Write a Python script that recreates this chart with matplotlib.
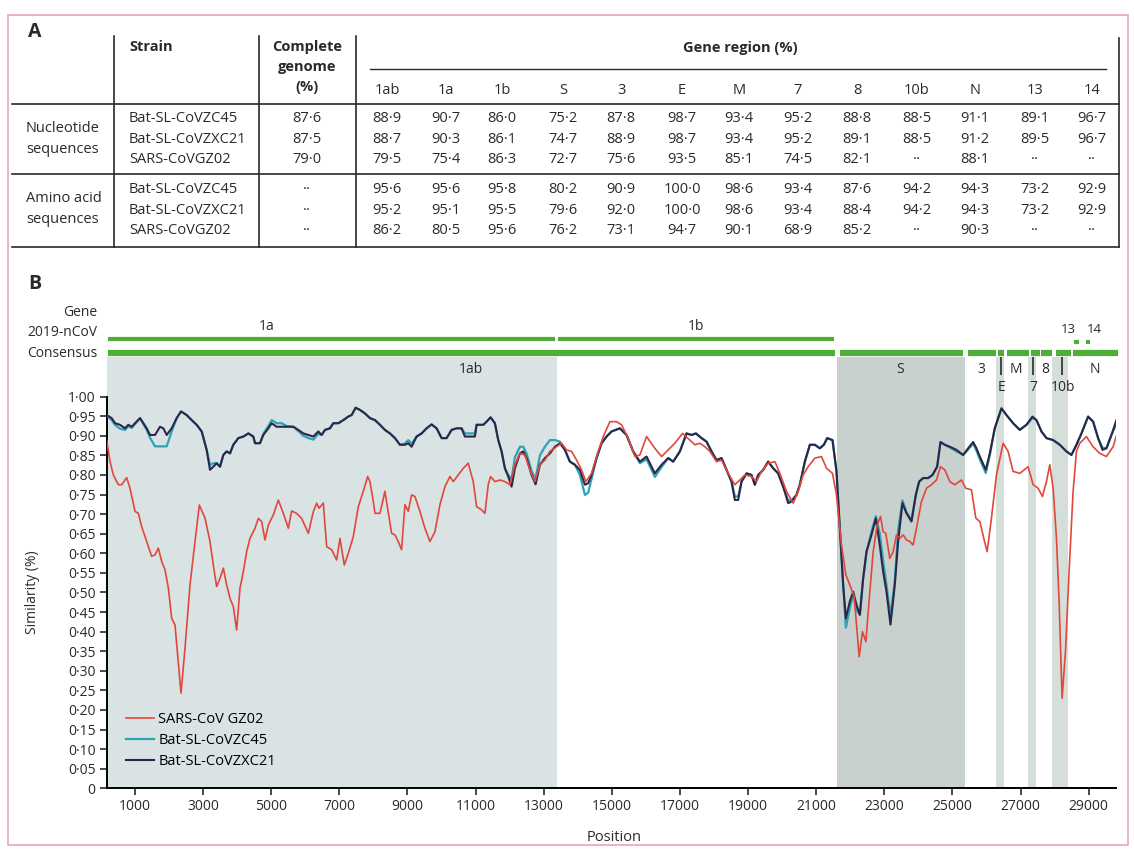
import matplotlib.pyplot as plt
from matplotlib.patches import Rectangle

plt.rcParams['font.family'] = ['Open Sans', 'DejaVu Sans']

# ---------------- panel A: identity table ----------------
strains = ['Bat-SL-CoVZC45', 'Bat-SL-CoVZXC21', 'SARS-CoVGZ02']
gene_cols = ['1ab', '1a', '1b', 'S', '3', 'E', 'M', '7', '8', '10b', 'N', '13', '14']
genome_nt = [87.6, 87.5, 79.0]
genome_aa = [None, None, None]
nt_zc45 = [88.9, 90.7, 86.0, 75.2, 87.8, 98.7, 93.4, 95.2, 88.8, 88.5, 91.1, 89.1, 96.7]
nt_zxc21 = [88.7, 90.3, 86.1, 74.7, 88.9, 98.7, 93.4, 95.2, 89.1, 88.5, 91.2, 89.5, 96.7]
nt_gz02 = [79.5, 75.4, 86.3, 72.7, 75.6, 93.5, 85.1, 74.5, 82.1, None, 88.1, None, None]
aa_zc45 = [95.6, 95.6, 95.8, 80.2, 90.9, 100.0, 98.6, 93.4, 87.6, 94.2, 94.3, 73.2, 92.9]
aa_zxc21 = [95.2, 95.1, 95.5, 79.6, 92.0, 100.0, 98.6, 93.4, 88.4, 94.2, 94.3, 73.2, 92.9]
aa_gz02 = [86.2, 80.5, 95.6, 76.2, 73.1, 94.7, 90.1, 68.9, 85.2, None, 90.3, None, None]

# ---------------- panel B: similarity plot ----------------
dark_pos = [169, 316, 414, 561, 708, 805, 903, 1001, 1148, 1246, 1344, 1441, 1588, 1735, 1833, 1931,
            2077, 2224, 2351, 2517, 2664, 2811, 2958, 3105, 3202, 3300, 3398, 3496, 3594, 3692, 3790,
            3887, 4034, 4181, 4328, 4474, 4524, 4670, 4768, 4915, 5013, 5160, 5306, 5453, 5649, 5795,
            5942, 6089, 6236, 6383, 6480, 6578, 6725, 6823, 6970, 7116, 7263, 7361, 7478, 7606, 7752,
            7899, 8045, 8192, 8338, 8485, 8632, 8779, 8925, 9023, 9121, 9268, 9415, 9561, 9708, 9855,
            10002, 10148, 10295, 10442, 10589, 10686, 10980, 11029, 11225, 11323, 11440, 11567, 11665,
            11763, 11860, 11958, 12056, 12154, 12301, 12398, 12496, 12643, 12761, 12888, 13035, 13181,
            13328, 13475, 13622, 13768, 13915, 14062, 14209, 14306, 14404, 14551, 14698, 14845, 14991,
            15236, 15431, 15627, 15823, 16019, 16263, 16459, 16655, 16801, 16997, 17193, 17340, 17467,
            17633, 17780, 17927, 18073, 18220, 18367, 18514, 18611, 18709, 18807, 18954, 19100, 19198,
            19296, 19443, 19590, 19737, 19883, 20030, 20177, 20275, 20422, 20519, 20666, 20813, 20960,
            21106, 21224, 21322, 21478, 21595, 21693, 21791, 21870, 21987, 22085, 22183, 22281, 22378,
            22476, 22623, 22750, 22867, 22965, 23063, 23180, 23307, 23405, 23532, 23650, 23797, 23924,
            24021, 24139, 24286, 24413, 24550, 24648, 24775, 24922, 25117, 25313, 25460, 25607, 25704,
            25802, 25978, 26096, 26242, 26438, 26585, 26780, 26976, 27172, 27348, 27466, 27612, 27759,
            27955, 28151, 28346, 28493, 28640, 28787, 28982, 29129, 29276, 29403, 29520, 29667, 29814]
zxc21_sim = [.953, .945, .932, .928, .919, .928, .923, .932, .945, .932, .919, .902, .902, .923, .919, .902,
             .919, .945, .962, .953, .940, .928, .911, .864, .813, .821, .830, .821, .851, .860, .855,
             .877, .894, .898, .906, .898, .881, .881, .902, .919, .932, .923, .923, .923, .923, .915,
             .906, .902, .898, .911, .902, .915, .919, .932, .932, .940, .949, .953, .972, .966, .957,
             .945, .940, .928, .915, .906, .894, .877, .877, .881, .872, .898, .906, .919, .929, .919,
             .894, .894, .915, .919, .919, .898, .898, .928, .928, .936, .947, .932, .889,
             .860, .817, .796, .770, .817, .855, .860, .843, .800, .776, .826, .843, .855,
             .872, .881, .864, .834, .826, .813, .775, .779, .800, .843, .881, .898, .911,
             .919, .902, .860, .834, .847, .804, .826, .843, .834, .860, .906, .902, .906,
             .894, .885, .860, .838, .843, .813, .783, .736, .736, .783, .804, .800, .775,
             .800, .813, .834, .817, .804, .770, .728, .732, .749, .775, .834, .877, .877,
             .868, .877, .894, .889, .809, .664, .519, .434, .477, .502, .468, .443, .536,
             .604, .647, .689, .620, .553, .502, .418, .519, .630, .728, .702, .681, .749,
             .783, .792, .792, .800, .821, .884, .877, .872, .864, .851, .868, .884, .868,
             .847, .813, .855, .919, .970, .953, .932, .915, .928, .949, .940, .911, .894,
             .889, .877, .860, .851, .877, .906, .949, .936, .894, .864, .868, .902, .940]
zc45_sim = [.953, .940, .928, .918, .915, .925, .920, .930, .945, .930, .915, .895, .873, .873, .873, .873,
            .911, .945, .962, .953, .940, .928, .911, .864, .825, .830, .830, .821, .851, .860, .855,
            .877, .894, .898, .906, .898, .881, .881, .905, .925, .940, .932, .932, .925, .923, .912,
            .900, .894, .890, .905, .902, .915, .919, .932, .932, .940, .949, .953, .970, .966, .957,
            .945, .940, .928, .915, .906, .894, .877, .880, .889, .880, .898, .906, .919, .929, .919,
            .894, .894, .915, .919, .919, .906, .906, .928, .928, .936, .947, .932, .889,
            .860, .817, .800, .790, .845, .872, .872, .855, .810, .790, .850, .872, .889,
            .889, .885, .864, .834, .826, .800, .749, .755, .790, .843, .881, .898, .911,
            .919, .902, .860, .830, .840, .795, .820, .843, .834, .860, .906, .902, .906,
            .894, .885, .860, .838, .843, .813, .783, .745, .745, .783, .804, .800, .775,
            .800, .813, .834, .817, .804, .770, .735, .735, .749, .775, .834, .877, .877,
            .868, .877, .894, .889, .809, .664, .519, .410, .460, .495, .455, .443, .536,
            .604, .655, .695, .650, .580, .520, .440, .530, .660, .735, .705, .685, .749,
            .783, .792, .792, .800, .821, .884, .877, .870, .860, .851, .865, .880, .862,
            .840, .805, .850, .919, .970, .953, .932, .915, .928, .945, .940, .911, .894,
            .889, .877, .860, .851, .877, .906, .949, .936, .894, .870, .868, .902, .930]

sars_pos = [169, 267, 365, 512, 610, 756, 854, 1001, 1099, 1197, 1344, 1490, 1588, 1686, 1784, 1882,
            1980, 2077, 2175, 2351, 2468, 2615, 2762, 2889, 3056, 3202, 3300, 3398, 3496, 3594, 3692,
            3790, 3887, 3985, 4083, 4181, 4278, 4376, 4524, 4621, 4719, 4817, 4915, 5062, 5208, 5355,
            5502, 5600, 5746, 5893, 6089, 6236, 6333, 6402, 6529, 6627, 6774, 6921, 7018, 7145, 7263,
            7410, 7556, 7703, 7830, 7898, 7997, 8045, 8192, 8338, 8534, 8632, 8730, 8827, 8925, 9023,
            9121, 9219, 9366, 9512, 9659, 9806, 9953, 10100, 10246, 10344, 10491, 10638, 10784, 10931,
            11029, 11176, 11274, 11371, 11440, 11567, 11714, 11860, 12007, 12154, 12301, 12447, 12594,
            12741, 12888, 13035, 13181, 13377, 13524, 13670, 13817, 13964, 14111, 14238, 14404, 14600,
            14747, 14943, 15138, 15285, 15480, 15676, 15823, 16019, 16263, 16459, 16655, 16850, 17075,
            17291, 17437, 17584, 17731, 17878, 18073, 18220, 18416, 18611, 18758, 18905, 19100, 19247,
            19394, 19590, 19786, 19932, 20128, 20324, 20470, 20617, 20764, 20960, 21155, 21302, 21478,
            21595, 21742, 21870, 21987, 22114, 22183, 22261, 22359, 22457, 22574, 22672, 22789, 22887,
            22965, 23043, 23160, 23258, 23356, 23454, 23552, 23650, 23748, 23845, 23943, 24090, 24237,
            24383, 24530, 24648, 24775, 24922, 25068, 25264, 25391, 25558, 25685, 25802, 25920, 26017,
            26145, 26291, 26487, 26634, 26780, 26976, 27221, 27368, 27515, 27642, 27759, 27857, 27955,
            28053, 28131, 28219, 28317, 28424, 28541, 28640, 28738, 28933, 29129, 29325, 29520, 29716,
            29834]
sars_sim = [.889, .834, .800, .775, .775, .793, .766, .707, .702, .668, .630, .592, .596, .613, .579, .558,
            .511, .434, .417, .243, .357, .519, .630, .723, .690, .630, .570, .515, .536, .562, .519,
            .485, .464, .404, .511, .553, .604, .638, .664, .689, .681, .634, .672, .698, .736, .702,
            .664, .708, .702, .689, .651, .706, .728, .715, .728, .617, .609, .583, .638, .570, .600,
            .643, .719, .758, .796, .783, .732, .702, .702, .758, .651, .647, .630, .609, .724, .707,
            .749, .745, .707, .664, .630, .655, .724, .770, .796, .783, .800, .817, .830, .783,
            .719, .711, .702, .775, .796, .783, .787, .783, .775, .826, .855, .851, .813,
            .783, .826, .838, .860, .872, .881, .864, .860, .838, .813, .783, .804, .860,
            .898, .936, .936, .928, .894, .847, .851, .898, .868, .847, .864, .881, .906,
            .889, .877, .881, .872, .860, .834, .838, .804, .775, .787, .800, .796, .783,
            .809, .830, .834, .804, .758, .728, .758, .800, .821, .843, .847, .817, .804,
            .749, .621, .545, .519, .489, .417, .336, .400, .374, .502, .604, .672, .694,
            .655, .651, .587, .604, .647, .638, .647, .634, .630, .621, .664, .732, .766,
            .775, .787, .821, .813, .783, .775, .787, .766, .762, .690, .681, .638, .604,
            .690, .800, .881, .860, .809, .804, .821, .775, .766, .745, .783, .826, .766,
            .638, .477, .230, .349, .553, .758, .860, .881, .898, .872, .855, .847, .872,
            .906]

# gene map (genome position)
orf1a = (200, 13330)
orf1b = (13420, 21520)
consensus_names = ['1ab', 'S', '3', 'E', 'M', '7', '8', '10b', 'N']
consensus_start = [200, 21690, 25450, 26330, 26600, 27300, 27600, 28030, 28530]
consensus_end = [21540, 25300, 26270, 26510, 27240, 27560, 27920, 28470, 29850]
small_orfs = ['13', '14']
small_start = [28580, 28930]
small_end = [28720, 29050]
shade_1ab = (170, 13380)
shade_s = (21600, 25360)
shade_thin = [(26270, 26510), (27220, 27450), (27910, 28390)]

fig = plt.figure(figsize=(11.34, 8.49), dpi=100)
fig.patch.set_facecolor('white')

# page frame of the scan
page = fig.add_axes([0, 0, 1, 1])
page.set_xlim(0, 1134)
page.set_ylim(849, 0)
page.axis('off')
page.add_patch(Rectangle((8, 15), 1120, 830, fill=False, ec='#e9a6ae', lw=1.2))

# ---------------- table ----------------
def fmt(v):
    if v is None:
        return '··'
    return f'{v:.1f}'.replace('.', '·')

ink = '#2a2a2a'
fs = 10.5
col_x = [387, 446, 502, 563, 621, 682, 739, 798, 857, 917, 975, 1035, 1092]

page.text(28, 32, 'A', fontsize=14, fontweight='bold', va='center', color=ink)
for xv in [114, 259, 356]:
    page.plot([xv, xv], [36, 247], color=ink, lw=1.2)
page.plot([1119, 1119], [38, 247], color=ink, lw=1.2)
for yv in [104, 174, 247]:
    page.plot([12, 1119], [yv, yv], color=ink, lw=1.2)
page.plot([370, 1106], [69, 69], color=ink, lw=1.0)

page.text(129, 47, 'Strain', fontsize=fs, fontweight='bold', va='center', color=ink)
page.text(307, 47, 'Complete', fontsize=fs, fontweight='bold', va='center', ha='center', color=ink)
page.text(307, 67, 'genome', fontsize=fs, fontweight='bold', va='center', ha='center', color=ink)
page.text(307, 87, '(%)', fontsize=fs, fontweight='bold', va='center', ha='center', color=ink)
page.text(740, 48, 'Gene region (%)', fontsize=fs, fontweight='bold', va='center', ha='center', color=ink)
for cx, g in zip(col_x, gene_cols):
    page.text(cx, 90, g, fontsize=fs, va='center', ha='center', color=ink)

page.text(26, 128, 'Nucleotide', fontsize=fs, va='center', color=ink)
page.text(26, 149, 'sequences', fontsize=fs, va='center', color=ink)
page.text(26, 198, 'Amino acid', fontsize=fs, va='center', color=ink)
page.text(26, 219, 'sequences', fontsize=fs, va='center', color=ink)

row_y_nt = [118, 139, 159]
row_y_aa = [189, 210, 230]
for ry, name, gv, vals in zip(row_y_nt, strains, genome_nt, [nt_zc45, nt_zxc21, nt_gz02]):
    page.text(129, ry, name, fontsize=fs, va='center', color=ink)
    page.text(307, ry, fmt(gv), fontsize=fs, va='center', ha='center', color=ink)
    for cx, v in zip(col_x, vals):
        page.text(cx, ry, fmt(v), fontsize=fs, va='center', ha='center', color=ink)
for ry, name, gv, vals in zip(row_y_aa, strains, genome_aa, [aa_zc45, aa_zxc21, aa_gz02]):
    page.text(129, ry, name, fontsize=fs, va='center', color=ink)
    page.text(307, ry, fmt(gv), fontsize=fs, va='center', ha='center', color=ink)
    for cx, v in zip(col_x, vals):
        page.text(cx, ry, fmt(v), fontsize=fs, va='center', ha='center', color=ink)

page.text(28, 284, 'B', fontsize=14, fontweight='bold', va='center', color=ink)
page.text(97, 312, 'Gene', fontsize=10, va='center', ha='right', color=ink)
page.text(97, 333, '2019-nCoV', fontsize=10, va='center', ha='right', color=ink)
page.text(97, 353, 'Consensus', fontsize=10, va='center', ha='right', color=ink)

# ---------------- similarity plot ----------------
ax = fig.add_axes([0.0941, 0.0715, 0.890, 0.5075])
ax.set_xlim(170, 29800)
ax.set_ylim(0, 1.10)
ax.set_facecolor('white')

ax.axvspan(*shade_1ab, color='#d9e3e4', lw=0, zorder=0)
ax.axvspan(*shade_s, color='#c9d1ce', lw=0, zorder=0)
for a, b in shade_thin:
    ax.axvspan(a, b, color='#d6ded9', lw=0, zorder=0)

green = '#4fae38'
ax.hlines([1.147, 1.147], [orf1a[0], orf1b[0]], [orf1a[1], orf1b[1]], color=green, lw=3.0, clip_on=False)
ax.hlines([1.112] * len(consensus_start), consensus_start, consensus_end, color=green, lw=4.5, clip_on=False)
ax.hlines([1.140] * len(small_start), small_start, small_end, color=green, lw=3.0, clip_on=False)
ax.text(sum(orf1a) / 2 - 1900, 1.178, '1a', ha='center', va='center', fontsize=10, color=ink)
ax.text(sum(orf1b) / 2, 1.178, '1b', ha='center', va='center', fontsize=10, color=ink)
ax.text(small_start[0] + 40, 1.172, small_orfs[0], ha='right', va='center', fontsize=9.5, color=ink)
ax.text(small_end[1] - 120, 1.172, small_orfs[1], ha='left', va='center', fontsize=9.5, color=ink)

upper = {'1ab': 10860, 'S': 23470, '3': 25860, 'M': 26860, '8': 27710, 'N': 29190}
lower = {'E': 26450, '7': 27376, '10b': 28250}
for name, xp in upper.items():
    ax.text(xp, 1.068, name, ha='center', va='center', fontsize=10, color=ink)
for name, xp in lower.items():
    ax.text(xp, 1.024, name, ha='center', va='center', fontsize=10, color=ink)
ax.vlines([26430, 27376, 28205], 1.055, 1.100, color=ink, lw=1.2)

ax.plot(dark_pos, zc45_sim, color='#2fa3b3', lw=1.6, zorder=3, label='Bat-SL-CoVZC45')
ax.plot(dark_pos, zxc21_sim, color='#2c2749', lw=1.5, zorder=4, label='Bat-SL-CoVZXC21')
ax.plot(sars_pos, sars_sim, color='#e2473c', lw=1.2, zorder=5, label='SARS-CoV GZ02')

h, l = ax.get_legend_handles_labels()
order = [2, 0, 1]
ax.legend([h[i] for i in order], [l[i] for i in order], loc='lower left',
          bbox_to_anchor=(0.012, 0.028), frameon=False, fontsize=10.5,
          handlelength=1.9, handletextpad=0.3, labelspacing=0.42, borderpad=0)

ax.spines['top'].set_visible(False)
ax.spines['right'].set_visible(False)
ax.spines['left'].set_bounds(0, 1.0)
ax.spines['left'].set_linewidth(1.4)
ax.spines['bottom'].set_linewidth(1.4)

yt = [i * 0.05 for i in range(21)]
ax.set_yticks(yt)
ax.set_yticklabels(['0' if v == 0 else f'{v:.2f}'.replace('.', '·') for v in yt])
xt = list(range(1000, 30000, 2000))
ax.set_xticks(xt)
ax.set_xticklabels([str(v) for v in xt])
ax.tick_params(axis='both', direction='out', length=5, width=1.2, labelsize=10, colors=ink, pad=3)

ax.set_ylabel('Similarity (%)', fontsize=10, color=ink)
ax.yaxis.set_label_coords(-0.066, 0.455)
ax.set_xlabel('Position', fontsize=10.5, color=ink)
ax.xaxis.set_label_coords(0.503, -0.097)

fig.savefig('out.png', dpi=100)
